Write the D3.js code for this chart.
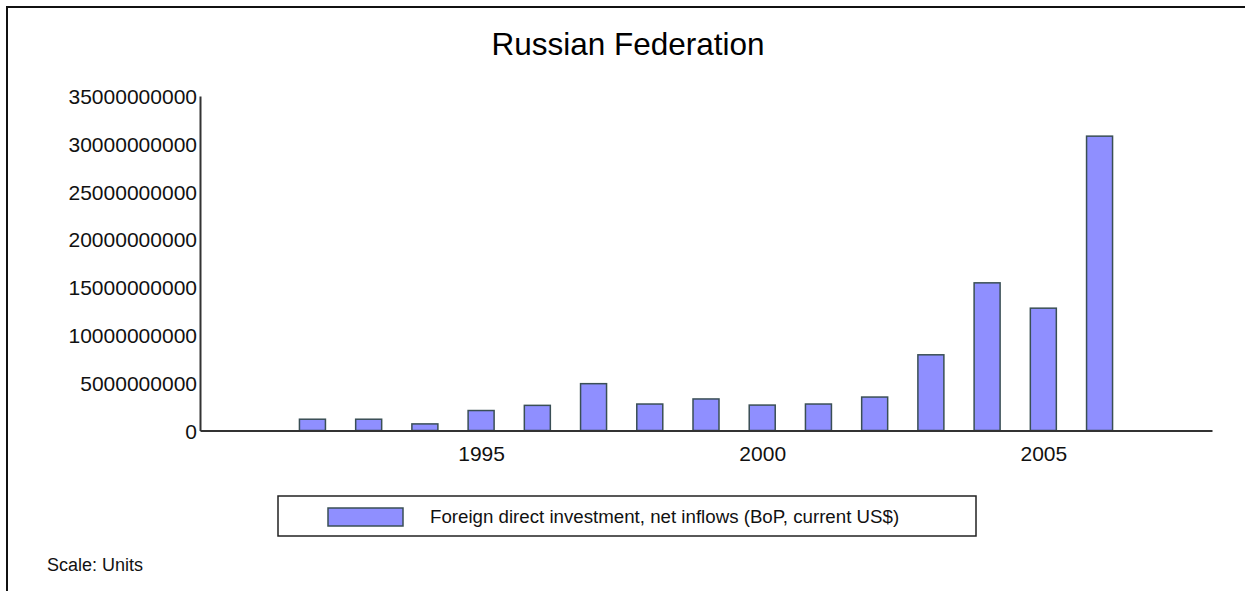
<!DOCTYPE html>
<html>
<head>
<meta charset="utf-8">
<script src="https://cdn.jsdelivr.net/npm/d3@7"></script>
<style>
  html, body { margin: 0; padding: 0; background: #fff; }
  svg { display: block; font-family: "Liberation Sans", Arial, sans-serif; }
</style>
</head>
<body>
<svg id="chart" width="1245" height="591"></svg>
<script>
// ---- data ----
const years = [1992, 1993, 1994, 1995, 1996, 1997, 1998, 1999, 2000, 2001, 2002, 2003, 2004, 2005, 2006];
const fdiValues = [1.18e9, 1.18e9, 0.69e9, 2.09e9, 2.63e9, 4.90e9, 2.77e9, 3.30e9, 2.66e9, 2.77e9, 3.50e9, 7.92e9, 15.45e9, 12.80e9, 30.80e9];
const yTicks = [0, 5e9, 10e9, 15e9, 20e9, 25e9, 30e9, 35e9];
const xTicks = [1995, 2000, 2005];
const xDomain = [1990, 2008];
const titleText = "Russian Federation";
const legendLabel = "Foreign direct investment, net inflows (BoP, current US$)";
const scaleNote = "Scale: Units";

// ---- layout ----
const svg = d3.select("#chart");
const x = d3.scaleLinear().domain(xDomain).range([200, 1212]);
const y = d3.scaleLinear().domain([0, 35e9]).range([430.5, 96]);
const barW = 26;
const barFill = "#8f8fff";
const barStroke = "#3a4f55";
const axisColor = "#333";

// frame (top and left borders)
svg.append("line").attr("x1", 6).attr("x2", 1245).attr("y1", 7).attr("y2", 7)
  .attr("stroke", "#111").attr("stroke-width", 2);
svg.append("line").attr("x1", 7).attr("x2", 7).attr("y1", 6).attr("y2", 591)
  .attr("stroke", "#111").attr("stroke-width", 2);

// title
svg.append("text").attr("x", 628).attr("y", 55).attr("text-anchor", "middle")
  .attr("font-size", 31.5).attr("fill", "#000").text(titleText);

// bars
svg.append("g").selectAll("rect").data(years).join("rect")
  .attr("x", (d) => x(d) - barW / 2)
  .attr("y", (d, i) => y(fdiValues[i]))
  .attr("width", barW)
  .attr("height", (d, i) => y(0) - y(fdiValues[i]))
  .attr("fill", barFill).attr("stroke", barStroke).attr("stroke-width", 1.5);

// y axis
const yAxis = d3.axisLeft(y).tickValues(yTicks).tickSize(0).tickPadding(3)
  .tickFormat(d3.format("d"));
const gy = svg.append("g").attr("transform", "translate(200,0)").call(yAxis);
gy.select(".domain").attr("stroke", axisColor).attr("stroke-width", 2);
gy.selectAll("text").attr("font-size", 21).attr("fill", "#111")
  .attr("font-family", "Liberation Sans, Arial, sans-serif").attr("dy", "0.36em");

// x axis
const xAxis = d3.axisBottom(x).tickValues(xTicks).tickSize(0).tickPadding(15)
  .tickFormat(d3.format("d"));
const gx = svg.append("g").attr("transform", `translate(0,${y(0)})`).call(xAxis);
gx.select(".domain").attr("stroke", axisColor).attr("stroke-width", 2);
gx.selectAll("text").attr("font-size", 21).attr("fill", "#111")
  .attr("font-family", "Liberation Sans, Arial, sans-serif").attr("dy", "0.75em");

// legend
const lg = svg.append("g");
lg.append("rect").attr("x", 278).attr("y", 496).attr("width", 698).attr("height", 40)
  .attr("fill", "#fff").attr("stroke", "#222").attr("stroke-width", 1.5);
lg.append("rect").attr("x", 328).attr("y", 508).attr("width", 75).attr("height", 18)
  .attr("fill", barFill).attr("stroke", barStroke).attr("stroke-width", 1.5);
lg.append("text").attr("x", 430).attr("y", 523).attr("font-size", 18.7)
  .attr("fill", "#111").text(legendLabel);

// scale note
svg.append("text").attr("x", 47).attr("y", 571).attr("font-size", 18)
  .attr("fill", "#111").text(scaleNote);
</script>
</body>
</html>
